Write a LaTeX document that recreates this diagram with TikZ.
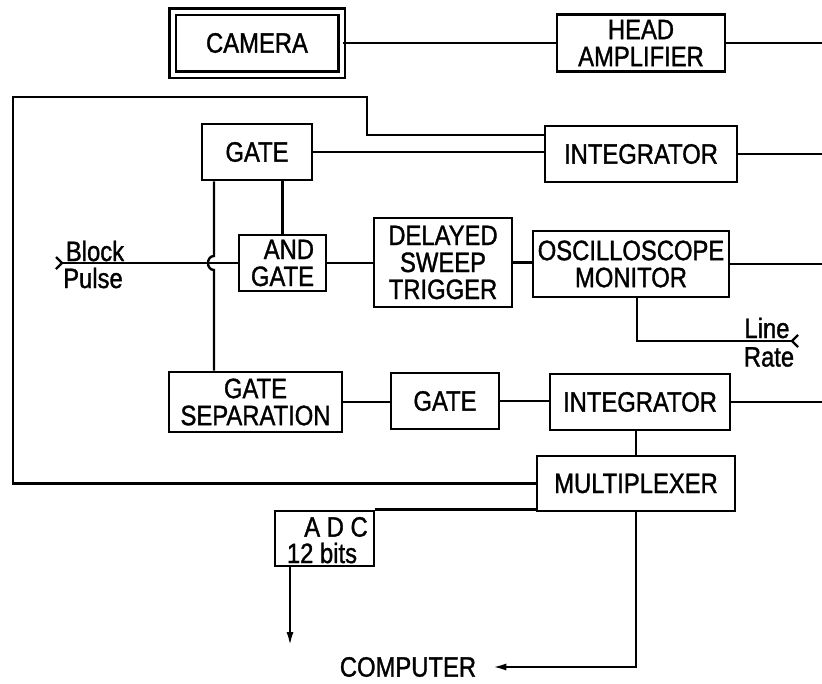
\documentclass[tikz,border=0pt]{standalone}
\usepackage{fontspec}
\setmainfont{Liberation Sans}[FakeStretch=0.85,FakeBold=1.2]
\usetikzlibrary{arrows.meta}
\newcommand\diafont{\fontsize{28}{27}\selectfont}
\begin{document}
\begin{tikzpicture}[x=1pt,y=-1pt,
  box/.style={draw,line width=2.8pt,inner sep=0pt,align=center,font=\diafont},
  txt/.style={inner sep=0pt,font=\diafont},
  conn/.style={line width=2.4pt},
  tip/.style={-{Latex[length=14pt,width=7pt]}}]
\useasboundingbox (0,0) rectangle (822,683);
\coordinate (R) at (822,0);
% boxes
\node[box,double,line width=2.2pt,double distance=4pt,minimum width=169pt,minimum height=63pt] (camera) at (257,43) {CAMERA};
\node[box,minimum width=168pt,minimum height=57pt] (head) at (641,43) {HEAD\\AMPLIFIER};
\node[box,minimum width=110pt,minimum height=56pt] (gate1) at (257,152) {GATE};
\node[box,minimum width=192pt,minimum height=56pt] (int1) at (641,154) {INTEGRATOR};
\node[box,minimum width=87pt,minimum height=56pt,align=right] (andg) at (282.5,263) {AND\\GATE};
\node[box,minimum width=138pt,minimum height=89pt] (dst) at (443,262.5) {DELAYED\\SWEEP\\TRIGGER};
\node[box,minimum width=196pt,minimum height=66pt] (osc) at (631,264) {OSCILLOSCOPE\\MONITOR};
\node[box,minimum width=173pt,minimum height=60pt] (gsep) at (255.5,402) {GATE\\SEPARATION};
\node[box,minimum width=108pt,minimum height=56pt] (gate2) at (445,401) {GATE};
\node[box,minimum width=180pt,minimum height=56pt] (int2) at (640,402) {INTEGRATOR};
\node[box,minimum width=198pt,minimum height=55pt] (mux) at (636,483.5) {MULTIPLEXER};
\node[box,minimum width=99pt,minimum height=55pt] (adc) at (324.5,538.5) {};
\node[txt] (adct1) at (336,527) {A D C};
\node[txt] (adct2) at (322,553) {12 bits};
\node[txt,inner xsep=16pt] (comp) at (408,667) {COMPUTER};
\node[txt] (block) at (95,251) {Block};
\node[txt] (pulse) at (93,278) {Pulse};
\node[txt] (line) at (767,328) {Line};
\node[txt] (rate) at (769,357) {Rate};
% connectors
\draw[conn] (camera.east) -- (head.west);
\draw[conn] (head.east) -- (head.east -| R);
\draw[conn] (gate1.east) -- (gate1.east -| int1.west);
\draw[conn] (int1.east) -- (int1.east -| R);
\coordinate (L1) at (13,97);
\coordinate (L2) at (367,135);
\draw[conn] (mux.west) -| (L1) -| (L2) -- (L2 -| int1.west);
\draw[conn] (andg.north) -- (andg.north |- gate1.south);
\coordinate (HX) at (214,0);
\draw[conn] (gate1.south -| HX) -- (214,256) .. controls (206,256) and (206,270) .. (214,270) -- (gsep.north -| HX);
\coordinate (bp) at (62,263);
\coordinate (bpa) at (56,257);
\coordinate (bpb) at (56,269);
\draw[conn] (bp) -- (andg.west);
\draw[conn] (bpa) -- (bp) -- (bpb);
\draw[conn] (andg.east) -- (dst.west |- andg.east);
\draw[conn] (dst.east) -- (osc.west |- dst.east);
\draw[conn] (osc.east) -- (osc.east -| R);
\coordinate (lrc) at (637,341);
\coordinate (lr) at (792,341);
\coordinate (lra) at (798,335);
\coordinate (lrb) at (798,347);
\draw[conn] (osc.south -| lrc) -- (lrc) -- (lr);
\draw[conn] (lra) -- (lr) -- (lrb);
\draw[conn] (gsep.east) -- (gate2.west |- gsep.east);
\draw[conn] (gate2.east) -- (int2.west |- gate2.east);
\draw[conn] (int2.east) -- (int2.east -| R);
\draw[conn] (int2.south -| mux.north) -- (mux.north);
\draw[conn] (adc.north east) -- (adc.north east -| mux.south west);
\coordinate (adcend) at (290,646);
\draw[conn,tip] (adc.south -| adcend) -- (adcend);
\draw[conn,tip] (mux.south) |- (comp);
\end{tikzpicture}
\end{document}
